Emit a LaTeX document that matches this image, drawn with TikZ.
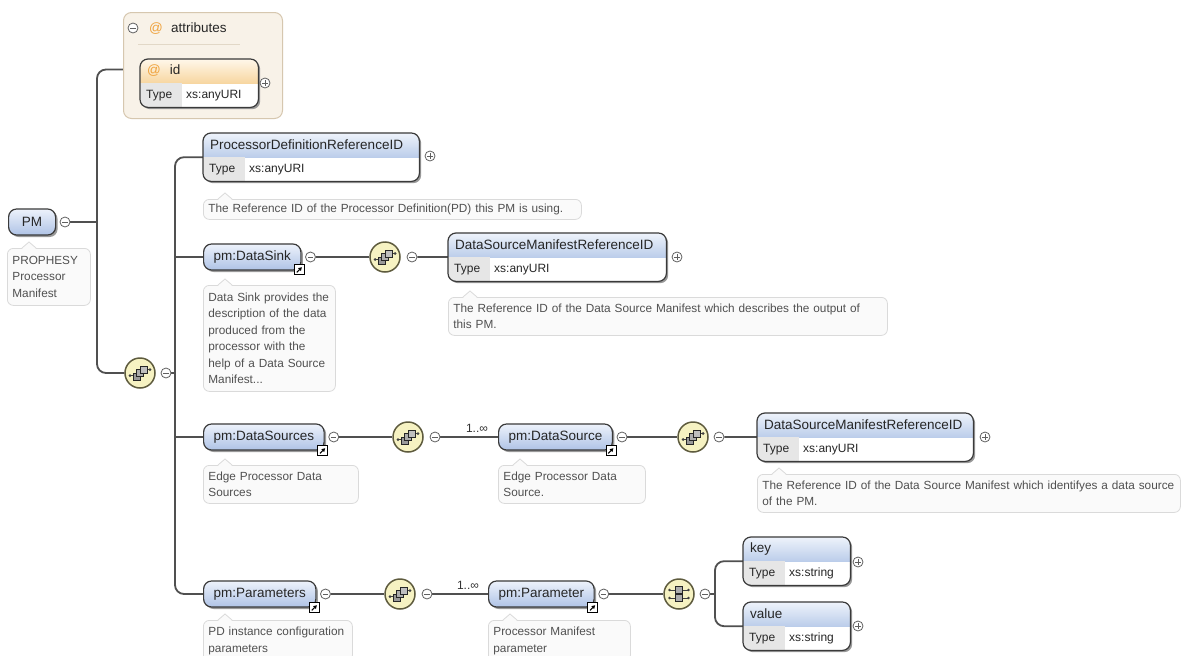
\documentclass[tikz,border=0pt]{standalone}
\usepackage{fontspec}
\setmainfont{Liberation Sans}
\usetikzlibrary{calc,arrows.meta,shadows}

\definecolor{wireC}{HTML}{505050}
\definecolor{frameC}{HTML}{3A3A3A}
\definecolor{elemTop}{HTML}{EDF2FB}
\definecolor{elemBot}{HTML}{AFC3E6}
\definecolor{typTop}{HTML}{EEF3FB}
\definecolor{typBot}{HTML}{BBCDEA}
\definecolor{attrTop}{HTML}{FFF7EA}
\definecolor{attrBot}{HTML}{F7D6A0}
\definecolor{attrBg}{HTML}{F8F2E8}
\definecolor{attrEdge}{HTML}{D6C7AF}
\definecolor{atSign}{HTML}{EFA23C}
\definecolor{seqFill}{HTML}{F6F2C2}
\definecolor{seqEdge}{HTML}{5E5B3E}
\definecolor{noteFill}{HTML}{FAFAFA}
\definecolor{noteEdge}{HTML}{DADADA}
\definecolor{noteText}{HTML}{505050}
\definecolor{typeCell}{HTML}{E6E6E6}
\definecolor{toggleC}{HTML}{606060}

\pgfdeclarelayer{paper}
\pgfdeclarelayer{wires}
\pgfsetlayers{paper,wires,main}

% element with a type row: name, left, top, width, header colours, header, type
\newcommand\typedElem[8]{%
  \node[typedframe, minimum width=#4pt, anchor=north west] (#1) at (#2,#3) {};
  \begin{scope}
    \clip[rounded corners=8pt] (#1.north west) rectangle (#1.south east);
    \shade[top color=#5, bottom color=#6] (#1.north west) rectangle (#1.east);
    \fill[typeCell] (#1.west) rectangle ([xshift=42pt]#1.south west);
  \end{scope}
  \draw[frameC, line width=1.2pt, rounded corners=8pt] (#1.north west) rectangle (#1.south east);
  \node[hdrtext, anchor=west] at ([shift={(7pt,-12pt)}]#1.north west) {#7};
  \node[typetext, anchor=west] at ([shift={(6pt,12pt)}]#1.south west) {Type};
  \node[typetext, anchor=west] at ([shift={(46pt,12pt)}]#1.south west) {#8};
}

% annotation box with a small pointer: name, left, top, text width, height, text
\newcommand\xsdNote[6]{%
  \node[notebox, text width=#4pt, minimum height=#5pt] (#1) at (#2,#3) {#6};
  \fill[noteFill] (#2+15,#3+0.8) -- (#2+22,#3-6) -- (#2+29,#3+0.8) -- cycle;
  \draw[noteEdge, line width=.8pt] (#2+15,#3) -- (#2+22,#3-6) -- (#2+29,#3);
}

\begin{document}
\begin{tikzpicture}[x=1pt, y=-1pt,
  wire/.style={draw=wireC, line width=1.8pt, rounded corners=9pt},
  framed shadow/.style={drop shadow={shadow xshift=2pt, shadow yshift=-2pt, fill=black!40, opacity=1}},
  elem/.style={draw=frameC, line width=1.2pt, rounded corners=8pt, top color=elemTop, bottom color=elemBot,
    inner xsep=10pt, inner ysep=0pt, minimum height=26pt, font=\fontsize{13.5}{16}\selectfont, text=black!85, framed shadow},
  typedframe/.style={fill=white, rounded corners=8pt, minimum height=48pt, inner sep=0pt, framed shadow},
  hdrtext/.style={font=\fontsize{13.5}{16}\selectfont, text=black!85, inner sep=0pt},
  typetext/.style={font=\fontsize{12}{14}\selectfont, text=black!85, inner sep=0pt},
  notebox/.style={draw=noteEdge, fill=noteFill, line width=.8pt, rounded corners=6pt, inner xsep=5pt, inner ysep=2pt,
    align=left, font=\fontsize{11.8}{16.5}\selectfont, text=noteText, anchor=north west},
  toggle/.style={circle, draw=toggleC, line width=.8pt, fill=white, minimum size=10pt, inner sep=0pt},
  minusicon/.style={toggle, path picture={\draw[toggleC, line width=.9pt]
      ([xshift=-2.6pt]path picture bounding box.center) -- ([xshift=2.6pt]path picture bounding box.center);}},
  plusicon/.style={toggle, path picture={\draw[toggleC, line width=.9pt]
      ([xshift=-2.6pt]path picture bounding box.center) -- ([xshift=2.6pt]path picture bounding box.center)
      ([yshift=-2.6pt]path picture bounding box.center) -- ([yshift=2.6pt]path picture bounding box.center);}},
  compositor/.style={circle, draw=seqEdge, line width=1.5pt, fill=seqFill, minimum size=30pt, inner sep=0pt},
  seqicon/.style={compositor, path picture={
    \begin{scope}[shift={(path picture bounding box.center)}, x=1pt, y=1pt]
      \draw[black!75, line width=.9pt] (-10,-2.5) -- (-5,-2.5) (5,3.5) -- (10,3.5);
      \fill[black!75] (-10,-2.5) circle (1.5) (10,3.5) circle (1.5);
      \filldraw[fill=black!40, draw=black!85, line width=.6pt] (-7,-7) rectangle (0,0);
      \filldraw[fill=black!32, draw=black!85, line width=.6pt] (-3.5,-3.5) rectangle (3.5,3.5);
      \filldraw[fill=black!25, draw=black!85, line width=.6pt] (0,0) rectangle (7,7);
    \end{scope}}},
  choiceicon/.style={compositor, path picture={
    \begin{scope}[shift={(path picture bounding box.center)}, x=1pt, y=1pt]
      \draw[black!75, line width=.9pt] (-9.5,4) -- (9.5,4) (-9.5,-4) -- (9.5,-4);
      \fill[black!75] (-9.5,4) circle (1.4) (-9.5,-4) circle (1.4) (9.5,4) circle (1.4) (9.5,-4) circle (1.4);
      \filldraw[fill=black!32, draw=black!85, line width=.6pt] (-3.5,0.7) rectangle (3.5,7.5);
      \filldraw[fill=black!32, draw=black!85, line width=.6pt] (-3.5,-7.5) rectangle (3.5,-0.7);
    \end{scope}}},
  linkicon/.style={rectangle, draw=black, line width=.9pt, fill=white, minimum size=10pt, inner sep=0pt,
    path picture={\draw[black, line width=1.1pt, -{Triangle[length=3.4pt,width=3.8pt]}]
      ([shift={(-2.8pt,-2.8pt)}]path picture bounding box.center) -- ([shift={(2.4pt,2.4pt)}]path picture bounding box.center);}},
  multlabel/.style={font=\fontsize{12}{14}\selectfont, text=black!80, inner sep=0pt},
  attrbox/.style={draw=attrEdge, line width=1pt, fill=attrBg, rounded corners=8pt, inner sep=0pt, anchor=north west},
]
\begin{pgfonlayer}{paper}
  \fill[white] (0,0) rectangle (1192,656);
\end{pgfonlayer}
\useasboundingbox (0,0) rectangle (1192,656);

% ---- attribute group ----
\node[attrbox, minimum width=159pt, minimum height=106pt] (attrs) at (123,12) {};
\node[minusicon] (attrminus) at (133,28) {};
\node[hdrtext, text=atSign] (attrat) at (156,29) {@};
\node[hdrtext, anchor=west] (attrlabel) at (171,28) {attributes};
\draw[attrEdge!70, line width=.6pt] (138,44) -- (240,44);
\typedElem{idattr}{140}{59}{118}{attrTop}{attrBot}{\textcolor{atSign}{@}\hspace{9pt}id}{xs:anyURI}
\node[plusicon] (idplus) at (265,83) {};

% ---- root ----
\node[elem, anchor=west, minimum width=47pt] (pm) at (8,222) {PM};
\node[minusicon] (pmminus) at (65,222) {};
\xsdNote{pmnote}{7}{248}{73}{57}{PROPHESY\\Processor\\Manifest}
\node[seqicon] (seq1) at (140,373) {};
\node[minusicon] (seq1minus) at (166,373) {};

% ---- processor definition reference ----
\typedElem{pdref}{203}{133}{216}{typTop}{typBot}{ProcessorDefinitionReferenceID}{xs:anyURI}
\node[plusicon] (pdplus) at (430,156) {};
\xsdNote{pdnote}{203}{199}{368}{20}{The Reference ID of the Processor Definition(PD) this PM is using.}

% ---- data sink ----
\node[elem, anchor=west] (sink) at (203,257) {pm:DataSink};
\node[linkicon] (sinklink) at ([shift={(-2pt,1pt)}]sink.south east) {};
\node[minusicon] (sinkminus) at ([xshift=9pt]sink.east) {};
\xsdNote{sinknote}{203}{285}{122}{106}{Data Sink provides the\\description of the data\\produced from the\\processor with the\\help of a Data Source\\Manifest...}
\node[seqicon] (seq2) at (385,257) {};
\node[minusicon] (seq2minus) at (412,257) {};
\typedElem{dsmA}{448}{233}{218}{typTop}{typBot}{DataSourceManifestReferenceID}{xs:anyURI}
\node[plusicon] (dsmAplus) at (677,257) {};
\xsdNote{dsmAnote}{448}{297}{429}{38}{The Reference ID of the Data Source Manifest which describes the output of\\this PM.}

% ---- data sources ----
\node[elem, anchor=west] (sources) at (203,437) {pm:DataSources};
\node[linkicon] (sourceslink) at ([shift={(-2pt,0pt)}]sources.south east) {};
\node[minusicon] (sourcesminus) at ([xshift=9pt]sources.east) {};
\xsdNote{sourcesnote}{203}{465}{145}{38}{Edge Processor Data\\Sources}
\node[seqicon] (seq3) at (408,437) {};
\node[minusicon] (seq3minus) at (435,437) {};
\node[multlabel] (multA) at (477,428) {1..∞};
\node[elem, anchor=west] (source) at (498,437) {pm:DataSource};
\node[linkicon] (sourcelink) at ([shift={(-2pt,0pt)}]source.south east) {};
\node[minusicon] (sourceminus) at ([xshift=9pt]source.east) {};
\xsdNote{sourcenote}{498}{465}{137}{38}{Edge Processor Data\\Source.}
\node[seqicon] (seq4) at (693,437) {};
\node[minusicon] (seq4minus) at (719,437) {};
\typedElem{dsmB}{757}{413}{216}{typTop}{typBot}{DataSourceManifestReferenceID}{xs:anyURI}
\node[plusicon] (dsmBplus) at (985,437) {};
\xsdNote{dsmBnote}{757}{474}{413}{38}{The Reference ID of the Data Source Manifest which identifyes a data source\\of the PM.}

% ---- parameters ----
\node[elem, anchor=west] (params) at (203,594) {pm:Parameters};
\node[linkicon] (paramslink) at ([shift={(-2pt,0pt)}]params.south east) {};
\node[minusicon] (paramsminus) at ([xshift=9pt]params.east) {};
\xsdNote{paramsnote}{203}{620}{139}{41}{PD instance configuration\\parameters}
\node[seqicon] (seq5) at (400,594) {};
\node[minusicon] (seq5minus) at (427,594) {};
\node[multlabel] (multB) at (468,585) {1..∞};
\node[elem, anchor=west] (param) at (488,594) {pm:Parameter};
\node[linkicon] (paramlink) at ([shift={(-2pt,0pt)}]param.south east) {};
\node[minusicon] (paramminus) at ([xshift=9pt]param.east) {};
\xsdNote{paramnote}{488}{620}{132}{41}{Processor Manifest\\parameter}
\node[choiceicon] (choice) at (679,594) {};
\node[minusicon] (choiceminus) at (705,594) {};
\typedElem{key}{743}{537}{107}{typTop}{typBot}{key}{xs:string}
\node[plusicon] (keyplus) at (858,562) {};
\typedElem{value}{743}{602}{107}{typTop}{typBot}{value}{xs:string}
\node[plusicon] (valueplus) at (858,626) {};

% ---- connectors ----
\coordinate (spineA) at (97,222);
\coordinate (spineB) at (175,373);
\coordinate (jSink) at (175,257);
\coordinate (jSources) at (175,437);
\coordinate (jChoice) at (715,594);
\begin{pgfonlayer}{wires}
  \draw[wire] ([yshift=-4pt]attrs.west) -- ++(-26,0) |- (seq1.west);
  \draw[wire] (pmminus) -- (spineA);
  \draw[wire] (pdref.west) -- ++(-28,0) |- (params.west);
  \draw[wire] (seq1minus) -- (spineB);
  \draw[wire] (jSink) -- (sink);
  \draw[wire] (jSources) -- (sources);
  \draw[wire] (sinkminus) -- (seq2);
  \draw[wire] (seq2minus) -- (dsmA);
  \draw[wire] (sourcesminus) -- (seq3);
  \draw[wire] (seq3minus) -- (source);
  \draw[wire] (sourceminus) -- (seq4);
  \draw[wire] (seq4minus) -- (dsmB);
  \draw[wire] (paramsminus) -- (seq5);
  \draw[wire] (seq5minus) -- (param);
  \draw[wire] (paramminus) -- (choice);
  \draw[wire] (choiceminus) -- (jChoice);
  \draw[wire] (key.west) -- ++(-28,0) |- (value.west);
\end{pgfonlayer}
\end{tikzpicture}
\end{document}
